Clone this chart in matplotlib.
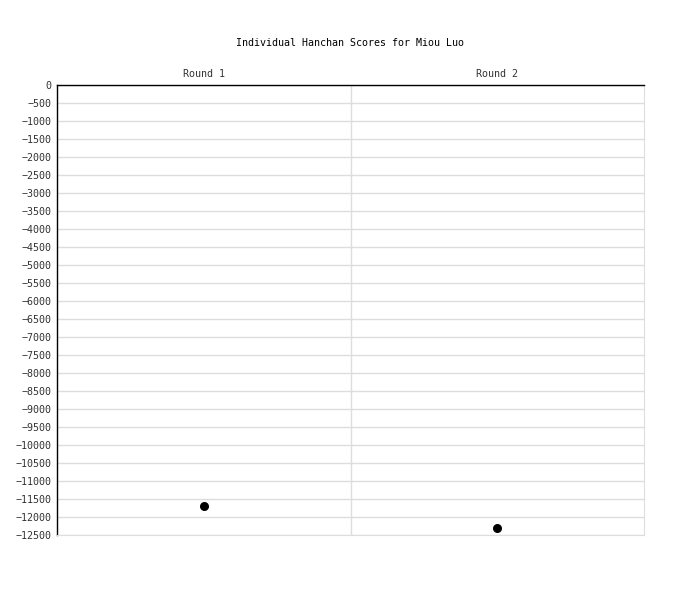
import matplotlib
matplotlib.use("Agg")
import matplotlib.pyplot as plt
import numpy as np

categories = ["Round 1", "Round 2"]
scores = [-11700, -12300]
yticks = list(range(0, -12501, -500))
title = "Individual Hanchan Scores for Miou Luo"

plt.rcParams['font.family'] = ['DejaVu Sans Mono']
fig = plt.figure(figsize=(7, 6), dpi=100)
ax = fig.add_axes([57/700, 1-535/600, (644-57)/700, (535-85)/600])

xpos = np.arange(len(categories)) + 0.5
ax.scatter(xpos, scores, s=30, color='black', zorder=3)
ax.set_xlim(0, len(categories))
ax.set_ylim(-12500, 0)
ax.set_yticks(yticks)
ax.set_yticklabels([str(v).replace('-', '\u2212') for v in yticks], fontsize=7.2, color='#333333')
ax.set_xticks(xpos)
ax.set_xticklabels(categories, fontsize=7.2, color='#333333')
ax.xaxis.tick_top()
ax.tick_params(length=0, pad=4)
ax.set_xticks(np.arange(1, len(categories)), minor=True)
ax.tick_params(which='minor', length=0)
ax.grid(True, axis='y', color='#dddddd', linewidth=1)
ax.grid(True, axis='x', which='minor', color='#dddddd', linewidth=1)
ax.set_axisbelow(True)
for s in ['right', 'bottom']:
    ax.spines[s].set_color('#dddddd')
for s in ['left', 'top']:
    ax.spines[s].set_color('black')
    ax.spines[s].set_linewidth(1.0)
fig.text(350/700, 1-43/600, title, ha='center', va='center', fontsize=7.2)
fig.savefig("out.png")
